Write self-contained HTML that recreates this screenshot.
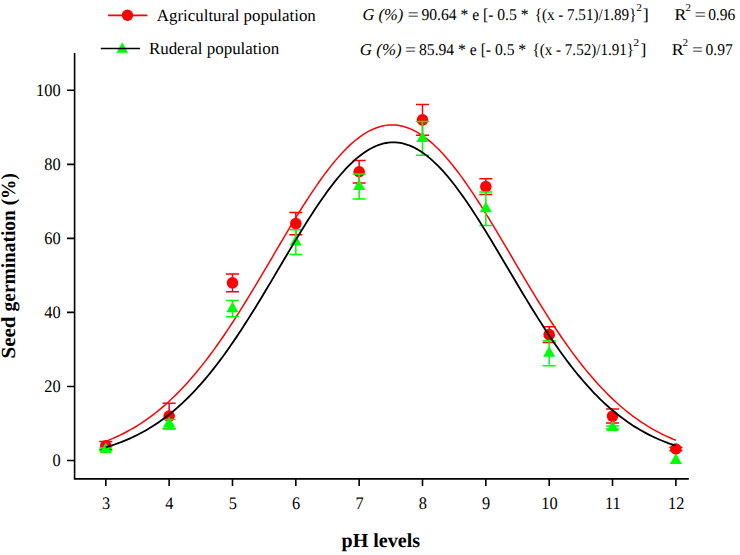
<!DOCTYPE html>
<html><head><meta charset="utf-8"><style>
html,body{margin:0;padding:0;background:#fff;width:740px;height:555px;overflow:hidden}
svg{display:block}
</style></head><body>
<svg width="740" height="555" viewBox="0 0 740 555" font-family="Liberation Serif" fill="#000" text-rendering="geometricPrecision"><rect width="740" height="555" fill="#fff"/><path d="M74.6,53 V479.6 M73.8,478.9 H688.8" stroke="#000" stroke-width="1.6" fill="none"/><path d="M67,460.50 H74.6 M67,386.46 H74.6 M67,312.42 H74.6 M67,238.38 H74.6 M67,164.34 H74.6 M67,90.30 H74.6 M105.80,478.9 V486 M169.14,478.9 V486 M232.48,478.9 V486 M295.82,478.9 V486 M359.16,478.9 V486 M422.50,478.9 V486 M485.84,478.9 V486 M549.18,478.9 V486 M612.52,478.9 V486 M675.86,478.9 V486 " stroke="#000" stroke-width="1.6" fill="none"/><text transform="translate(60.6,466.10) scale(0.93,1)" font-size="17.6" text-anchor="end">0</text><text transform="translate(60.6,392.06) scale(0.93,1)" font-size="17.6" text-anchor="end">20</text><text transform="translate(60.6,318.02) scale(0.93,1)" font-size="17.6" text-anchor="end">40</text><text transform="translate(60.6,243.98) scale(0.93,1)" font-size="17.6" text-anchor="end">60</text><text transform="translate(60.6,169.94) scale(0.93,1)" font-size="17.6" text-anchor="end">80</text><text transform="translate(60.6,95.90) scale(0.93,1)" font-size="17.6" text-anchor="end">100</text><text transform="translate(106.10,508.6) scale(0.93,1)" font-size="17.6" text-anchor="middle">3</text><text transform="translate(169.44,508.6) scale(0.93,1)" font-size="17.6" text-anchor="middle">4</text><text transform="translate(232.78,508.6) scale(0.93,1)" font-size="17.6" text-anchor="middle">5</text><text transform="translate(296.12,508.6) scale(0.93,1)" font-size="17.6" text-anchor="middle">6</text><text transform="translate(359.46,508.6) scale(0.93,1)" font-size="17.6" text-anchor="middle">7</text><text transform="translate(422.80,508.6) scale(0.93,1)" font-size="17.6" text-anchor="middle">8</text><text transform="translate(486.14,508.6) scale(0.93,1)" font-size="17.6" text-anchor="middle">9</text><text transform="translate(549.48,508.6) scale(0.93,1)" font-size="17.6" text-anchor="middle">10</text><text transform="translate(612.82,508.6) scale(0.93,1)" font-size="17.6" text-anchor="middle">11</text><text transform="translate(676.16,508.6) scale(0.93,1)" font-size="17.6" text-anchor="middle">12</text><g transform="rotate(-90)"><text x="-358.55" y="15.20" font-size="20" font-weight="bold" font-style="normal" textLength="42.12" lengthAdjust="spacingAndGlyphs">Seed</text><text x="-311.38" y="15.20" font-size="20" font-weight="bold" font-style="normal" textLength="138.33" lengthAdjust="spacingAndGlyphs">germination (%)</text></g><text x="156.85" y="20.80" font-size="17" font-weight="normal" font-style="normal" textLength="158.96" lengthAdjust="spacingAndGlyphs">Agricultural population</text><text x="148.90" y="53.80" font-size="17" font-weight="normal" font-style="normal" textLength="130.28" lengthAdjust="spacingAndGlyphs">Ruderal population</text><text x="362.40" y="19.90" font-size="16.5" font-weight="normal" font-style="italic" textLength="40.83" lengthAdjust="spacingAndGlyphs">G (%)</text><text x="407.49" y="19.90" font-size="16.5" font-weight="normal" font-style="normal" textLength="11.30" lengthAdjust="spacingAndGlyphs">=</text><text x="421.43" y="19.90" font-size="16.5" font-weight="normal" font-style="normal" textLength="107.07" lengthAdjust="spacingAndGlyphs">90.64 * e [- 0.5 *</text><text x="534.63" y="19.90" font-size="16.5" font-weight="normal" font-style="normal" textLength="101.77" lengthAdjust="spacingAndGlyphs">{(x - 7.51)/1.89}</text><text x="636.26" y="11.20" font-size="10.5" font-weight="normal" font-style="normal" textLength="5.68" lengthAdjust="spacingAndGlyphs">2</text><text x="642.65" y="19.90" font-size="16.5" font-weight="normal" font-style="normal" textLength="6.01" lengthAdjust="spacingAndGlyphs">]</text><text x="674.57" y="19.90" font-size="16.5" font-weight="normal" font-style="normal" textLength="11.75" lengthAdjust="spacingAndGlyphs">R</text><text x="685.48" y="11.00" font-size="10.5" font-weight="normal" font-style="normal" textLength="5.44" lengthAdjust="spacingAndGlyphs">2</text><text x="694.47" y="19.90" font-size="16.5" font-weight="normal" font-style="normal" textLength="11.54" lengthAdjust="spacingAndGlyphs">=</text><text x="708.13" y="19.90" font-size="16.5" font-weight="normal" font-style="normal" textLength="27.12" lengthAdjust="spacingAndGlyphs">0.96</text><text x="359.88" y="54.60" font-size="16.5" font-weight="normal" font-style="italic" textLength="41.77" lengthAdjust="spacingAndGlyphs">G (%)</text><text x="405.01" y="54.60" font-size="16.5" font-weight="normal" font-style="normal" textLength="11.05" lengthAdjust="spacingAndGlyphs">=</text><text x="419.03" y="54.60" font-size="16.5" font-weight="normal" font-style="normal" textLength="107.18" lengthAdjust="spacingAndGlyphs">85.94 * e [- 0.5 *</text><text x="532.53" y="54.60" font-size="16.5" font-weight="normal" font-style="normal" textLength="101.47" lengthAdjust="spacingAndGlyphs">{(x - 7.52)/1.91}</text><text x="633.34" y="45.60" font-size="10.5" font-weight="normal" font-style="normal" textLength="5.93" lengthAdjust="spacingAndGlyphs">2</text><text x="640.47" y="54.60" font-size="16.5" font-weight="normal" font-style="normal" textLength="5.87" lengthAdjust="spacingAndGlyphs">]</text><text x="671.66" y="54.60" font-size="16.5" font-weight="normal" font-style="normal" textLength="11.85" lengthAdjust="spacingAndGlyphs">R</text><text x="682.47" y="45.60" font-size="10.5" font-weight="normal" font-style="normal" textLength="5.56" lengthAdjust="spacingAndGlyphs">2</text><text x="692.02" y="54.60" font-size="16.5" font-weight="normal" font-style="normal" textLength="10.93" lengthAdjust="spacingAndGlyphs">=</text><text x="705.53" y="54.60" font-size="16.5" font-weight="normal" font-style="normal" textLength="27.22" lengthAdjust="spacingAndGlyphs">0.97</text><text x="341.55" y="547.00" font-size="20" font-weight="bold" font-style="normal" textLength="78.49" lengthAdjust="spacingAndGlyphs">pH levels</text><path d="M105.80,441.28 L108.18,440.35 L110.55,439.38 L112.93,438.38 L115.30,437.33 L117.68,436.25 L120.05,435.13 L122.43,433.96 L124.80,432.75 L127.18,431.50 L129.55,430.21 L131.93,428.87 L134.30,427.48 L136.68,426.05 L139.05,424.56 L141.43,423.03 L143.80,421.45 L146.18,419.82 L148.55,418.13 L150.93,416.40 L153.31,414.61 L155.68,412.76 L158.06,410.86 L160.43,408.91 L162.81,406.90 L165.18,404.84 L167.56,402.72 L169.93,400.54 L172.31,398.30 L174.68,396.00 L177.06,393.65 L179.43,391.24 L181.81,388.77 L184.18,386.24 L186.56,383.65 L188.93,381.00 L191.31,378.30 L193.68,375.53 L196.06,372.71 L198.43,369.83 L200.81,366.89 L203.19,363.89 L205.56,360.84 L207.94,357.73 L210.31,354.57 L212.69,351.35 L215.06,348.07 L217.44,344.75 L219.81,341.37 L222.19,337.95 L224.56,334.47 L226.94,330.95 L229.31,327.38 L231.69,323.77 L234.06,320.11 L236.44,316.41 L238.81,312.68 L241.19,308.90 L243.56,305.09 L245.94,301.25 L248.31,297.38 L250.69,293.48 L253.07,289.55 L255.44,285.60 L257.82,281.63 L260.19,277.64 L262.57,273.63 L264.94,269.62 L267.32,265.59 L269.69,261.55 L272.07,257.52 L274.44,253.48 L276.82,249.44 L279.19,245.42 L281.57,241.40 L283.94,237.39 L286.32,233.40 L288.69,229.43 L291.07,225.48 L293.44,221.56 L295.82,217.67 L298.20,213.81 L300.57,209.99 L302.95,206.21 L305.32,202.48 L307.70,198.79 L310.07,195.16 L312.45,191.58 L314.82,188.06 L317.20,184.60 L319.57,181.21 L321.95,177.89 L324.32,174.64 L326.70,171.46 L329.07,168.37 L331.45,165.36 L333.82,162.44 L336.20,159.61 L338.57,156.87 L340.95,154.22 L343.32,151.67 L345.70,149.23 L348.08,146.89 L350.45,144.65 L352.83,142.53 L355.20,140.51 L357.58,138.62 L359.95,136.83 L362.33,135.17 L364.70,133.62 L367.08,132.20 L369.45,130.90 L371.83,129.73 L374.20,128.68 L376.58,127.76 L378.95,126.97 L381.33,126.31 L383.70,125.77 L386.08,125.37 L388.45,125.11 L390.83,124.97 L393.21,124.97 L395.58,125.09 L397.96,125.35 L400.33,125.74 L402.71,126.27 L405.08,126.92 L407.46,127.70 L409.83,128.61 L412.21,129.65 L414.58,130.82 L416.96,132.11 L419.33,133.52 L421.71,135.06 L424.08,136.72 L426.46,138.49 L428.83,140.38 L431.21,142.39 L433.58,144.51 L435.96,146.74 L438.34,149.07 L440.71,151.51 L443.09,154.05 L445.46,156.69 L447.84,159.42 L450.21,162.25 L452.59,165.17 L454.96,168.17 L457.34,171.26 L459.71,174.42 L462.09,177.67 L464.46,180.98 L466.84,184.37 L469.21,187.82 L471.59,191.34 L473.96,194.92 L476.34,198.55 L478.71,202.23 L481.09,205.96 L483.46,209.74 L485.84,213.55 L488.22,217.41 L490.59,221.30 L492.97,225.22 L495.34,229.16 L497.72,233.13 L500.09,237.12 L502.47,241.13 L504.84,245.15 L507.22,249.18 L509.59,253.21 L511.97,257.25 L514.34,261.29 L516.72,265.32 L519.09,269.35 L521.47,273.37 L523.84,277.37 L526.22,281.36 L528.59,285.34 L530.97,289.29 L533.35,293.22 L535.72,297.12 L538.10,300.99 L540.47,304.84 L542.85,308.65 L545.22,312.42 L547.60,316.16 L549.97,319.86 L552.35,323.52 L554.72,327.14 L557.10,330.71 L559.47,334.24 L561.85,337.72 L564.22,341.15 L566.60,344.53 L568.97,347.85 L571.35,351.13 L573.72,354.35 L576.10,357.52 L578.47,360.63 L580.85,363.69 L583.23,366.69 L585.60,369.63 L587.98,372.52 L590.35,375.35 L592.73,378.11 L595.10,380.83 L597.48,383.48 L599.85,386.07 L602.23,388.60 L604.60,391.08 L606.98,393.49 L609.35,395.85 L611.73,398.15 L614.10,400.39 L616.48,402.57 L618.85,404.70 L621.23,406.77 L623.60,408.78 L625.98,410.74 L628.36,412.64 L630.73,414.48 L633.11,416.28 L635.48,418.02 L637.86,419.71 L640.23,421.34 L642.61,422.93 L644.98,424.46 L647.36,425.95 L649.73,427.39 L652.11,428.78 L654.48,430.12 L656.86,431.42 L659.23,432.67 L661.61,433.88 L663.98,435.05 L666.36,436.18 L668.73,437.26 L671.11,438.31 L673.48,439.32 L675.86,440.28" stroke="#ff0000" stroke-width="1.5" fill="none"/><path d="M105.80,441.62 V449.76 M99.30,441.62 H112.30 M99.30,449.76 H112.30 M169.14,403.30 V428.85 M162.64,403.30 H175.64 M162.64,428.85 H175.64 M232.48,273.92 V291.69 M225.98,273.92 H238.98 M225.98,291.69 H238.98 M295.82,212.47 V234.68 M289.32,212.47 H302.32 M289.32,234.68 H302.32 M359.16,160.45 V183.04 M352.66,160.45 H365.66 M352.66,183.04 H365.66 M422.50,104.55 V135.28 M416.00,104.55 H429.00 M416.00,135.28 H429.00 M485.84,178.70 V194.40 M479.34,178.70 H492.34 M479.34,194.40 H492.34 M549.18,326.86 V342.41 M542.68,326.86 H555.68 M542.68,342.41 H555.68 M612.52,409.04 V423.11 M606.02,409.04 H619.02 M606.02,423.11 H619.02 M675.86,447.36 V450.69 M669.36,447.36 H682.36 M669.36,450.69 H682.36 " stroke="#ff0000" stroke-width="1.5" fill="none"/><circle cx="105.80" cy="445.69" r="5.8" fill="#ff0000"/><circle cx="169.14" cy="416.08" r="5.8" fill="#ff0000"/><circle cx="232.48" cy="282.80" r="5.8" fill="#ff0000"/><circle cx="295.82" cy="223.57" r="5.8" fill="#ff0000"/><circle cx="359.16" cy="171.74" r="5.8" fill="#ff0000"/><circle cx="422.50" cy="119.92" r="5.8" fill="#ff0000"/><circle cx="485.84" cy="186.55" r="5.8" fill="#ff0000"/><circle cx="549.18" cy="334.63" r="5.8" fill="#ff0000"/><circle cx="612.52" cy="416.08" r="5.8" fill="#ff0000"/><circle cx="675.86" cy="449.02" r="5.8" fill="#ff0000"/><path d="M105.80,447.91 V450.87 M99.30,447.91 H112.30 M99.30,450.87 H112.30 M169.14,419.41 V428.29 M162.64,419.41 H175.64 M162.64,428.29 H175.64 M232.48,300.57 V316.86 M225.98,300.57 H238.98 M225.98,316.86 H238.98 M295.82,229.68 V254.48 M289.32,229.68 H302.32 M289.32,254.48 H302.32 M359.16,174.11 V198.99 M352.66,174.11 H365.66 M352.66,198.99 H365.66 M422.50,121.62 V155.23 M416.00,121.62 H429.00 M416.00,155.23 H429.00 M485.84,192.03 V225.50 M479.34,192.03 H492.34 M479.34,225.50 H492.34 M549.18,340.63 V365.65 M542.68,340.63 H555.68 M542.68,365.65 H555.68 M612.52,426.07 V429.03 M606.02,426.07 H619.02 M606.02,429.03 H619.02 " stroke="#00ff00" stroke-width="1.5" fill="none"/><path d="M105.80,442.39 L111.90,452.89 L99.70,452.89 Z M169.14,416.85 L175.24,427.35 L163.04,427.35 Z M232.48,301.72 L238.58,312.22 L226.38,312.22 Z M295.82,235.08 L301.92,245.58 L289.72,245.58 Z M359.16,179.55 L365.26,190.05 L353.06,190.05 Z M422.50,131.43 L428.60,141.93 L416.40,141.93 Z M485.84,201.76 L491.94,212.26 L479.74,212.26 Z M549.18,346.14 L555.28,356.64 L543.08,356.64 Z M612.52,420.55 L618.62,431.05 L606.42,431.05 Z M675.86,453.50 L681.96,464.00 L669.76,464.00 Z " fill="#00ff00"/><path d="M105.80,447.28 L108.18,446.57 L110.55,445.83 L112.93,445.05 L115.30,444.24 L117.68,443.40 L120.05,442.52 L122.43,441.60 L124.80,440.65 L127.18,439.66 L129.55,438.62 L131.93,437.55 L134.30,436.43 L136.68,435.27 L139.05,434.06 L141.43,432.81 L143.80,431.51 L146.18,430.17 L148.55,428.77 L150.93,427.33 L153.31,425.83 L155.68,424.28 L158.06,422.69 L160.43,421.03 L162.81,419.33 L165.18,417.56 L167.56,415.74 L169.93,413.87 L172.31,411.94 L174.68,409.95 L177.06,407.90 L179.43,405.79 L181.81,403.62 L184.18,401.39 L186.56,399.10 L188.93,396.75 L191.31,394.34 L193.68,391.86 L196.06,389.33 L198.43,386.73 L200.81,384.07 L203.19,381.35 L205.56,378.57 L207.94,375.73 L210.31,372.83 L212.69,369.86 L215.06,366.84 L217.44,363.76 L219.81,360.62 L222.19,357.43 L224.56,354.18 L226.94,350.87 L229.31,347.51 L231.69,344.09 L234.06,340.63 L236.44,337.12 L238.81,333.55 L241.19,329.95 L243.56,326.29 L245.94,322.60 L248.31,318.87 L250.69,315.09 L253.07,311.28 L255.44,307.44 L257.82,303.57 L260.19,299.67 L262.57,295.74 L264.94,291.80 L267.32,287.83 L269.69,283.84 L272.07,279.84 L274.44,275.84 L276.82,271.82 L279.19,267.80 L281.57,263.78 L283.94,259.76 L286.32,255.75 L288.69,251.76 L291.07,247.77 L293.44,243.80 L295.82,239.86 L298.20,235.94 L300.57,232.05 L302.95,228.19 L305.32,224.38 L307.70,220.60 L310.07,216.87 L312.45,213.18 L314.82,209.55 L317.20,205.98 L319.57,202.47 L321.95,199.02 L324.32,195.65 L326.70,192.34 L329.07,189.12 L331.45,185.97 L333.82,182.90 L336.20,179.93 L338.57,177.04 L340.95,174.25 L343.32,171.56 L345.70,168.97 L348.08,166.49 L350.45,164.11 L352.83,161.84 L355.20,159.68 L357.58,157.64 L359.95,155.72 L362.33,153.92 L364.70,152.25 L367.08,150.69 L369.45,149.27 L371.83,147.98 L374.20,146.81 L376.58,145.78 L378.95,144.88 L381.33,144.12 L383.70,143.49 L386.08,143.00 L388.45,142.64 L390.83,142.43 L393.21,142.35 L395.58,142.41 L397.96,142.61 L400.33,142.94 L402.71,143.42 L405.08,144.03 L407.46,144.77 L409.83,145.65 L412.21,146.67 L414.58,147.81 L416.96,149.09 L419.33,150.50 L421.71,152.03 L424.08,153.69 L426.46,155.48 L428.83,157.38 L431.21,159.40 L433.58,161.54 L435.96,163.80 L438.34,166.16 L440.71,168.63 L443.09,171.21 L445.46,173.89 L447.84,176.67 L450.21,179.54 L452.59,182.50 L454.96,185.55 L457.34,188.69 L459.71,191.91 L462.09,195.20 L464.46,198.57 L466.84,202.01 L469.21,205.51 L471.59,209.07 L473.96,212.70 L476.34,216.37 L478.71,220.10 L481.09,223.87 L483.46,227.68 L485.84,231.53 L488.22,235.42 L490.59,239.34 L492.97,243.28 L495.34,247.24 L497.72,251.22 L500.09,255.22 L502.47,259.23 L504.84,263.24 L507.22,267.26 L509.59,271.28 L511.97,275.30 L514.34,279.31 L516.72,283.31 L519.09,287.30 L521.47,291.27 L523.84,295.22 L526.22,299.15 L528.59,303.05 L530.97,306.93 L533.35,310.77 L535.72,314.59 L538.10,318.36 L540.47,322.10 L542.85,325.80 L545.22,329.46 L547.60,333.08 L549.97,336.64 L552.35,340.16 L554.72,343.64 L557.10,347.06 L559.47,350.42 L561.85,353.74 L564.22,357.00 L566.60,360.20 L568.97,363.35 L571.35,366.43 L573.72,369.46 L576.10,372.44 L578.47,375.35 L580.85,378.20 L583.23,380.98 L585.60,383.71 L587.98,386.38 L590.35,388.98 L592.73,391.53 L595.10,394.01 L597.48,396.43 L599.85,398.79 L602.23,401.09 L604.60,403.32 L606.98,405.50 L609.35,407.62 L611.73,409.68 L614.10,411.67 L616.48,413.61 L618.85,415.50 L621.23,417.32 L623.60,419.09 L625.98,420.81 L628.36,422.47 L630.73,424.07 L633.11,425.63 L635.48,427.13 L637.86,428.58 L640.23,429.98 L642.61,431.33 L644.98,432.64 L647.36,433.90 L649.73,435.11 L652.11,436.28 L654.48,437.40 L656.86,438.48 L659.23,439.52 L661.61,440.52 L663.98,441.48 L666.36,442.40 L668.73,443.29 L671.11,444.13 L673.48,444.95 L675.86,445.73" stroke="#000" stroke-width="1.8" fill="none"/><path d="M108,15.4 H147.4" stroke="#ff0000" stroke-width="1.6"/><circle cx="127.5" cy="15.2" r="5.7" fill="#ff0000"/><path d="M122.30,42.30 L128.15,52.70 L116.45,52.70 Z " fill="#00ff00"/><path d="M100.8,48.6 H140" stroke="#000" stroke-width="1.5"/></svg>
</body></html>
